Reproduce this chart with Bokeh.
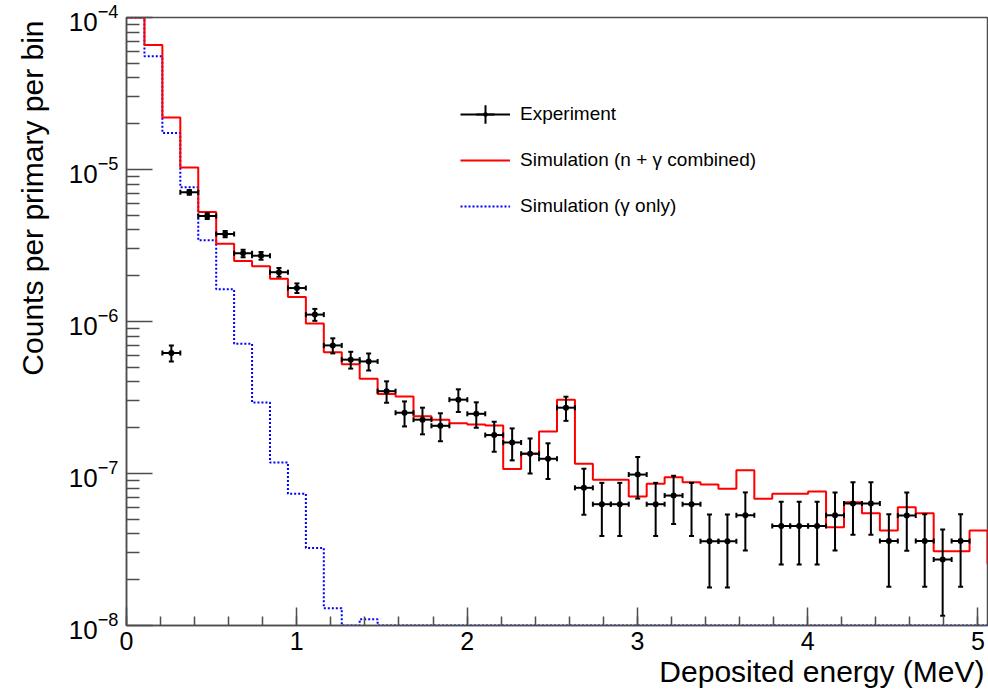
import numpy as np
from bokeh.plotting import figure
from bokeh.models import (Range1d, FixedTicker, SingleIntervalTicker, Legend,
                          LegendItem, ColumnDataSource, Title)
from bokeh.embed import file_html
from bokeh.resources import INLINE

# ---------------- data ----------------
x_max = 5.056          # MeV, right end of the axis
n_bins = 48
bin_width = x_max / n_bins

# Simulation (n + gamma combined), per bin (last bin starts at the right edge)
sim_total = [1.0e-4, 6.6e-5, 2.2e-5, 1.03e-5, 5.25e-6, 3.25e-6, 2.50e-6, 2.31e-6,
             1.91e-6, 1.45e-6, 9.7e-7, 6.28e-7, 5.23e-7, 4.2e-7, 3.34e-7, 3.21e-7,
             2.38e-7, 2.26e-7, 2.14e-7, 2.10e-7, 2.07e-7, 1.07e-7, 1.35e-7, 1.89e-7,
             3.06e-7, 1.16e-7, 9.08e-8, 9.08e-8, 7.06e-8, 8.55e-8, 9.46e-8, 8.77e-8,
             8.47e-8, 7.93e-8, 1.05e-7, 6.81e-8, 7.35e-8, 7.35e-8, 7.6e-8, 4.43e-8,
             6.47e-8, 5.47e-8, 4.21e-8, 6.0e-8, 5.47e-8, 3.08e-8, 3.08e-8, 4.21e-8,
             2.55e-8]

# Simulation (gamma only), per bin (0 = empty bin)
sim_gamma = [1.0e-4, 5.56e-5, 1.74e-5, 7.63e-6, 3.42e-6, 1.63e-6, 7.15e-7, 2.93e-7,
             1.18e-7, 7.35e-8, 3.24e-8, 1.3e-8, 0, 1.1e-8, 0, 0,
             0, 0, 0, 0, 0, 0, 0, 0,
             0, 0, 0, 0, 0, 0, 0, 0,
             0, 0, 0, 0, 0, 0, 0, 0,
             0, 0, 0, 0, 0, 0, 0, 0,
             0]

nan = float("nan")
# Experiment, per bin (nan = no point)
exp_vals = [nan, nan, 6.2e-7, 7.08e-6, 4.94e-6, 3.76e-6, 2.81e-6, 2.71e-6,
            2.11e-6, 1.66e-6, 1.11e-6, 6.96e-7, 5.61e-7, 5.46e-7, 3.48e-7, 2.51e-7,
            2.26e-7, 2.06e-7, 3.06e-7, 2.47e-7, 1.79e-7, 1.60e-7, 1.35e-7, 1.25e-7,
            2.71e-7, 8.05e-8, 6.28e-8, 6.28e-8, 9.84e-8, 6.28e-8, 7.16e-8, 6.28e-8,
            3.58e-8, 3.58e-8, 5.31e-8, nan, 4.52e-8, 4.52e-8, 4.52e-8, 5.31e-8,
            6.35e-8, 6.35e-8, 3.6e-8, 5.3e-8, 3.6e-8, 2.72e-8, 3.6e-8, nan]
exp_errs = [nan, nan, 7.5e-8, 2.5e-7, 2.1e-7, 1.8e-7, 1.6e-7, 1.6e-7,
            1.4e-7, 1.2e-7, 1.0e-7, 7.9e-8, 7.1e-8, 7.0e-8, 5.6e-8, 4.7e-8,
            4.5e-8, 4.3e-8, 5.2e-8, 4.7e-8, 4.0e-8, 3.8e-8, 3.5e-8, 3.3e-8,
            4.9e-8, 2.7e-8, 2.4e-8, 2.4e-8, 3.0e-8, 2.4e-8, 2.5e-8, 2.4e-8,
            1.8e-8, 1.8e-8, 2.2e-8, nan, 2.0e-8, 2.0e-8, 2.0e-8, 2.2e-8,
            2.4e-8, 2.4e-8, 1.8e-8, 2.2e-8, 1.8e-8, 1.56e-8, 1.8e-8, nan]

y_min, y_max = 1e-8, 1e-4
y_ticks_major = [1e-8, 1e-7, 1e-6, 1e-5, 1e-4]
x_title = "Deposited energy (MeV)"
y_title = "Counts per primary per bin"

# ---------------- derived geometry ----------------
edges = np.arange(len(sim_total) + 1) * bin_width
tot_y = list(sim_total) + [sim_total[-1]]
gam_plot = [v if v > 0 else y_min for v in sim_gamma]
gam_y = gam_plot + [gam_plot[-1]]

ev = np.array(exp_vals)
ee = np.array(exp_errs)
centers = (np.arange(len(exp_vals)) + 0.5) * bin_width
ok = ~np.isnan(ev)
exp_src = ColumnDataSource(dict(
    x=centers[ok], y=ev[ok],
    xl=centers[ok] - bin_width / 2, xr=centers[ok] + bin_width / 2,
    lo=ev[ok] - ee[ok], hi=ev[ok] + ee[ok]))

FONT = "Liberation Sans"
AX = "#4d4d4d"

p = figure(width=988, height=699, output_backend="svg", toolbar_location=None,
           x_range=Range1d(0, x_max), y_range=Range1d(y_min, y_max),
           y_axis_type="log", min_border_left=126, min_border_right=1,
           min_border_top=17, min_border_bottom=74)
p.background_fill_color = "white"
p.border_fill_color = "white"
p.outline_line_color = AX
p.outline_line_width = 1.5
p.xgrid.visible = False
p.ygrid.visible = False

# histograms
blue_r = p.step(edges, gam_y, mode="after", line_color="#0000ff",
                line_width=2, line_dash="2 2")
red_r = p.step(edges, tot_y, mode="after", line_color="#ff0000", line_width=2)

# experiment error bars, caps and markers
h_r = p.segment(x0="xl", y0="y", x1="xr", y1="y", source=exp_src,
                line_color="black", line_width=2)
p.segment(x0="x", y0="lo", x1="x", y1="hi", source=exp_src,
          line_color="black", line_width=2)
p.scatter(x="x", y="lo", source=exp_src, marker="dash", size=5,
          line_color="black", line_width=2)
p.scatter(x="x", y="hi", source=exp_src, marker="dash", size=5,
          line_color="black", line_width=2)
p.scatter(x="xl", y="y", source=exp_src, marker="dash", angle=np.pi / 2,
          size=5, line_color="black", line_width=2)
p.scatter(x="xr", y="y", source=exp_src, marker="dash", angle=np.pi / 2,
          size=5, line_color="black", line_width=2)
cross_r = p.scatter(x="x", y="y", source=exp_src, marker="cross", size=1,
                    line_color="black", line_width=2)
dot_r = p.scatter(x="x", y="y", source=exp_src, marker="dot", size=24,
                  line_color="black", fill_color="black")

# axes
xa = p.xaxis[0]
xa.ticker = SingleIntervalTicker(interval=1, num_minor_ticks=5)
ya = p.yaxis[0]
minor_y = [m * 10.0 ** e for e in range(-8, -4) for m in range(2, 10)]
ya.ticker = FixedTicker(ticks=y_ticks_major, minor_ticks=minor_y)

for ax, maj, mnr, fs in ((xa, 18, 9, "25px"), (ya, 26, 13, "26px")):
    ax.axis_line_color = AX
    ax.axis_line_width = 1.5
    ax.major_tick_line_color = AX
    ax.minor_tick_line_color = AX
    ax.major_tick_line_width = 1.5
    ax.minor_tick_line_width = 1.5
    ax.major_tick_in = maj
    ax.major_tick_out = 0
    ax.minor_tick_in = mnr
    ax.minor_tick_out = 0
    ax.major_label_text_font = FONT
    ax.major_label_text_font_size = fs
    ax.major_label_text_color = "black"

xa.major_label_standoff = 6
ya.major_label_standoff = 8

# axis titles, right/top aligned as in the reference (ROOT style)
p.add_layout(Title(text=x_title, align="right", offset=3, standoff=4,
                   vertical_align="top",
                   text_font=FONT, text_font_size="30px",
                   text_font_style="normal", text_color="black"), "below")
p.add_layout(Title(text=y_title, align="right", offset=3, standoff=30,
                   vertical_align="top",
                   text_font=FONT, text_font_size="30px",
                   text_font_style="normal", text_color="black"), "left")

legend = Legend(items=[
    LegendItem(label="Experiment", renderers=[h_r, cross_r, dot_r]),
    LegendItem(label="Simulation (n + \u03b3 combined)", renderers=[red_r]),
    LegendItem(label="Simulation (\u03b3 only)", renderers=[blue_r]),
], location=(334, 396), padding=0, spacing=0, margin=0,
    glyph_width=50, glyph_height=46, label_standoff=10,
    label_text_font=FONT, label_text_font_size="19px",
    label_text_color="black",
    border_line_color=None, background_fill_alpha=0)
p.add_layout(legend)

open("out.html", "w").write(file_html(p, INLINE))
